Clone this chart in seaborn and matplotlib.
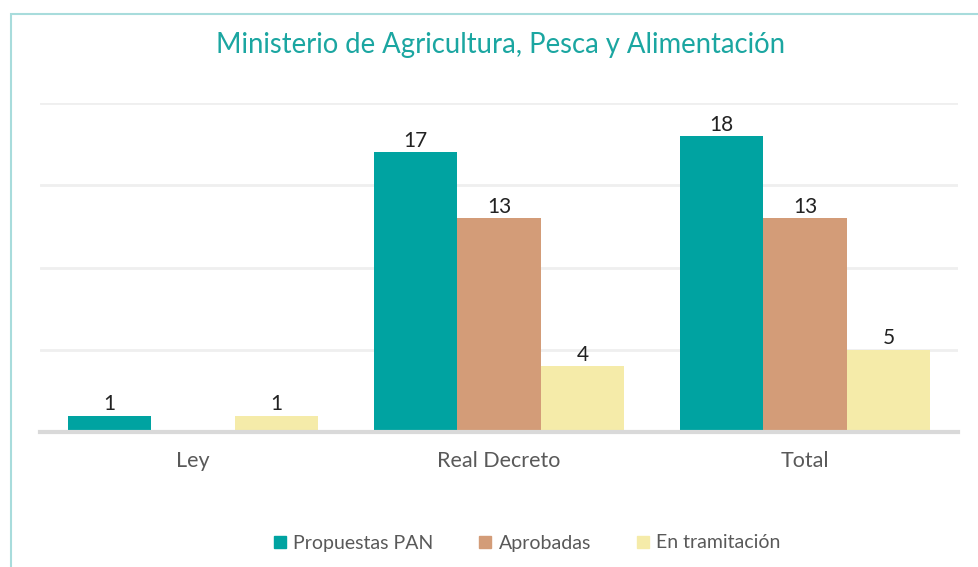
import pandas as pd
import matplotlib.pyplot as plt
import seaborn as sns
from matplotlib.patches import Rectangle

# data
categories = ['Ley', 'Real Decreto', 'Total']
series = ['Propuestas PAN', 'Aprobadas', 'En tramitación']
propuestas = [1, 17, 18]
aprobadas = [0, 13, 13]
tramitacion = [1, 4, 5]
colors = ['#00A3A1', '#D39C78', '#F5EBA9']

rows = []
for name, vals in zip(series, [propuestas, aprobadas, tramitacion]):
    for cat, v in zip(categories, vals):
        rows.append({'tipo': cat, 'serie': name, 'valor': v})
df = pd.DataFrame(rows)

sns.set_style('white')
plt.rcParams['font.family'] = ['Lato', 'DejaVu Sans']

fig = plt.figure(figsize=(9.79, 5.67), dpi=100)
ax = fig.add_axes([40 / 979, 1 - 432 / 567, 918 / 979, 329 / 567])

sns.barplot(data=df, x='tipo', y='valor', hue='serie', palette=colors,
            width=0.82, saturation=1, linewidth=0, ax=ax, legend=False)

# value labels (skip empty bars)
for cont in ax.containers:
    labels = [f'{b.get_height():.0f}' if b.get_height() > 0 else '' for b in cont]
    ax.bar_label(cont, labels=labels, fontsize=15, color='#222222', padding=1)

ax.set_xlim(-0.5, 2.5)
ax.set_ylim(0, 20)
ax.set_yticks([5, 10, 15, 20])
ax.yaxis.grid(True, color='#EFEFEF', linewidth=2)
ax.set_axisbelow(True)
ax.tick_params(axis='y', left=False, labelleft=False)
ax.tick_params(axis='x', bottom=False, labelsize=15.5, labelcolor='#595959', pad=10)
ax.set_xlabel('')
ax.set_ylabel('')
for s in ['top', 'right', 'left']:
    ax.spines[s].set_visible(False)
ax.spines['bottom'].set_color('#D9D9D9')
ax.spines['bottom'].set_linewidth(3)

# legend
handles = [plt.Line2D([], [], marker='s', linestyle='', markersize=8.5,
                      markerfacecolor=c, markeredgecolor=c) for c in colors]
fig.legend(handles, series, loc='center', bbox_to_anchor=(0.538, 1 - 543 / 567),
           ncol=3, frameon=False, fontsize=14, labelcolor='#595959',
           handlelength=0.7, handletextpad=0.35, columnspacing=2.3)

fig.text(0.511, 1 - 45 / 567, 'Ministerio de Agricultura, Pesca y Alimentación',
         ha='center', va='center', fontsize=19.8, color='#1BA6A1')

# outer chart border (cut off on the right and bottom)
fig.patches.append(Rectangle((11 / 979, -0.1), 1.2, 0.1 + 1 - 14 / 567,
                             transform=fig.transFigure, fill=False,
                             edgecolor='#A8DCDC', linewidth=1.5))

fig.savefig('out.png', dpi=100)
